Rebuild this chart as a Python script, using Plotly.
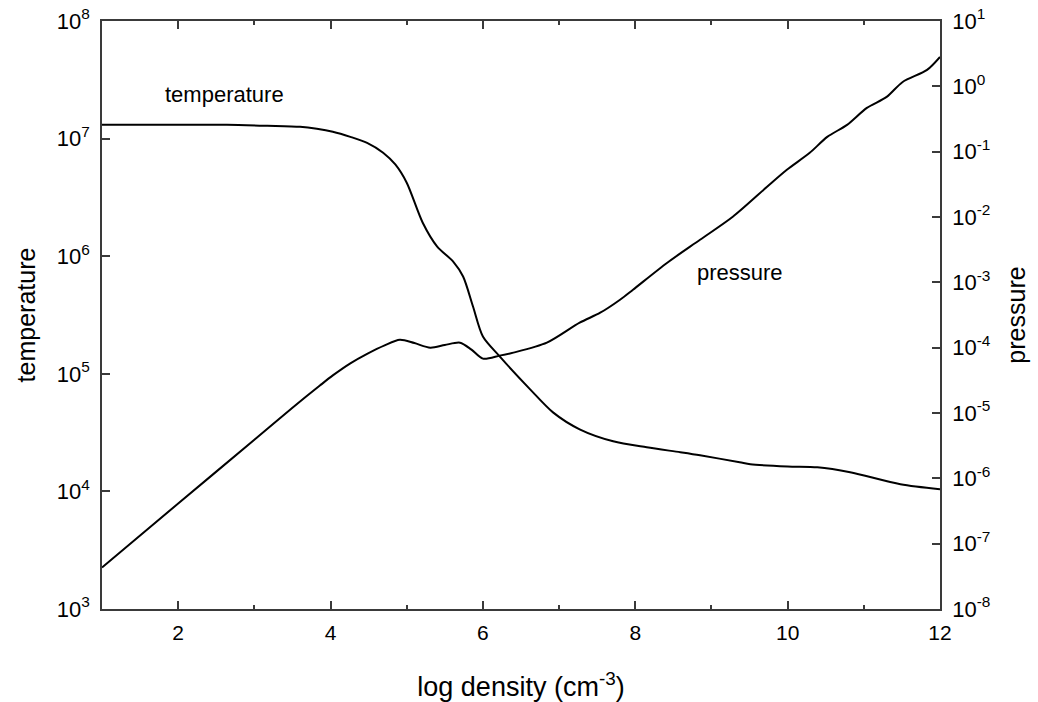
import plotly.graph_objects as go

# log density values (x) and log10 of temperature / pressure
temp_x = [1.00, 2.00, 2.64, 3.17, 3.60, 3.82, 4.03, 4.26, 4.48, 4.69, 4.85, 5.00, 5.21, 5.40,
          5.61, 5.74, 5.87, 6.00, 6.22, 6.62, 6.92, 7.27, 7.71, 8.15, 8.59, 8.85, 9.37,
          9.51, 10.00, 10.39, 10.82, 11.48, 12.00]
temp_log = [7.117, 7.117, 7.117, 7.109, 7.100, 7.083, 7.058, 7.015, 6.964, 6.880, 6.780, 6.625,
            6.285, 6.082, 5.954, 5.827, 5.572, 5.317, 5.148, 4.868, 4.672, 4.528, 4.426,
            4.375, 4.333, 4.307, 4.248, 4.231, 4.212, 4.205, 4.163, 4.061, 4.019]

pres_x = [1.00, 2.00, 3.00, 3.50, 3.86, 4.03, 4.26, 4.48, 4.71, 4.91, 5.10, 5.31, 5.50, 5.70,
          5.85, 6.00, 6.22, 6.40, 6.84, 7.27, 7.54, 7.80, 7.97, 8.42, 8.85, 9.28, 9.73, 9.99,
          10.29, 10.52, 10.78, 11.04, 11.30, 11.51, 11.83, 12.00]
pres_log = [-7.364, -6.385, -5.410, -4.920, -4.580, -4.425, -4.240, -4.095, -3.965, -3.880,
            -3.930, -4.000, -3.960, -3.924, -4.030, -4.168, -4.122, -4.076, -3.924, -3.618,
            -3.465, -3.266, -3.113, -2.700, -2.349, -1.997, -1.538, -1.278, -1.018, -0.774,
            -0.590, -0.330, -0.162, 0.067, 0.251, 0.450]

temp_vals = [10 ** v for v in temp_log]
pres_vals = [10 ** v for v in pres_log]

x_ticks = [2, 4, 6, 8, 10, 12]
t_exps = [3, 4, 5, 6, 7, 8]
p_exps = [-8, -7, -6, -5, -4, -3, -2, -1, 0, 1]

FONT = "Liberation Sans, Arial, sans-serif"
AX = "#3a3a3a"

fig = go.Figure()
fig.add_trace(go.Scatter(x=temp_x, y=temp_vals, mode="lines", name="temperature",
                         line=dict(color="black", width=2, shape="spline", smoothing=0.8),
                         xaxis="x", yaxis="y", hoverinfo="skip"))
fig.add_trace(go.Scatter(x=pres_x, y=pres_vals, mode="lines", name="pressure",
                         line=dict(color="black", width=2, shape="spline", smoothing=0.8),
                         xaxis="x2", yaxis="y2", hoverinfo="skip"))

tick_common = dict(ticks="inside", ticklen=8, tickwidth=1.5, tickcolor=AX,
                   showline=True, linecolor=AX, linewidth=1.5,
                   showgrid=False, zeroline=False, automargin=False)
minor_x = dict(ticks="inside", ticklen=4, tickwidth=1.5, tickcolor=AX, dtick=1, tick0=0)

fig.update_layout(
    width=1038, height=702,
    margin=dict(l=102, r=98, t=21, b=93),
    paper_bgcolor="white", plot_bgcolor="white",
    showlegend=False,
    font=dict(family=FONT, color="black", size=20),
    xaxis=dict(
        range=[1, 12], tickvals=x_ticks, ticktext=[str(v) for v in x_ticks],
        minor=minor_x, tickfont=dict(size=21), ticklabelstandoff=4,
        title=dict(text="log density (cm<sup>-3</sup>)", font=dict(size=27), standoff=38),
        **tick_common,
    ),
    xaxis2=dict(
        range=[1, 12], tickvals=x_ticks, overlaying="x", side="top", anchor="y2",
        showticklabels=False, minor=minor_x,
        **tick_common,
    ),
    yaxis=dict(
        type="log", range=[3, 8],
        tickvals=[10 ** e for e in t_exps],
        ticktext=["10<sup>%d</sup>" % e for e in t_exps],
        tickfont=dict(size=22), ticklabelstandoff=6,
        title=dict(text="temperature", font=dict(size=25), standoff=14),
        **tick_common,
    ),
    yaxis2=dict(
        type="log", range=[-8, 1], overlaying="y", side="right", anchor="x2",
        tickvals=[10 ** e for e in p_exps],
        ticktext=["10<sup>%d</sup>" % e for e in p_exps],
        tickfont=dict(size=22), ticklabelstandoff=6,
        title=dict(text="pressure", font=dict(size=25), standoff=18),
        **tick_common,
    ),
    annotations=[
        dict(x=2.61, y=7.372, xref="x", yref="y", text="temperature", showarrow=False,
             font=dict(size=22, family=FONT)),
        dict(x=9.375, y=5.861, xref="x", yref="y", text="pressure", showarrow=False,
             font=dict(size=22, family=FONT)),
    ],
)

fig.write_html("out.html", config={"displayModeBar": False},
               post_script="document.body.style.margin='0';")
